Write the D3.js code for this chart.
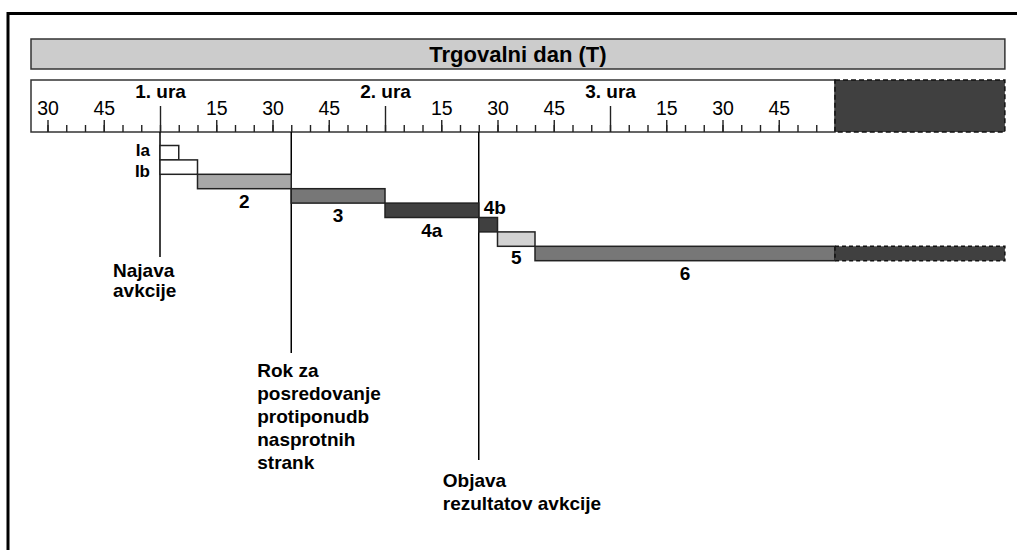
<!DOCTYPE html>
<html>
<head>
<meta charset="utf-8">
<script src="https://cdn.jsdelivr.net/npm/d3@7"></script>
<style>
  body { margin: 0; background: #fff; }
  svg { display: block; font-family: 'Liberation Sans', Arial, sans-serif; }
  .lbl { font-weight: bold; font-size: 19px; fill: #000; }
</style>
</head>
<body>
<svg id="chart" width="1017" height="550"></svg>
<script>
// time is in minutes from the start of the trading day
const title = 'Trgovalni dan (T)'
const axisStart = 25.6
const dayEnd = 240
const nextDayEnd = 285.3

const hourTicks = [60, 120, 180]
const hourLabels = ['1. ura', '2. ura', '3. ura']
const quarterTicks = [30, 45, 75, 90, 105, 135, 150, 165, 195, 210, 225]
const quarterLabels = ['30', '45', '15', '30', '45', '15', '30', '45', '15', '30', '45']
const minuteTicks = d3.range(30, 240, 5)

const phases = ['Ia', 'Ib', '2', '3', '4a', '4b', '5', '6']
const phaseStart = [60, 60, 70, 95, 120, 145, 150, 160]
const phaseEnd = [65, 70, 95, 120, 145, 150, 160, 240]

const events = [60, 95, 145]
const eventLabels = [
  ['Najava', 'avkcije'],
  ['Rok za', 'posredovanje', 'protiponudb', 'nasprotnih', 'strank'],
  ['Objava', 'rezultatov avkcije'],
]

// styles
const phaseColors = ['#ffffff', '#ffffff', '#a8a8a8', '#777777', '#404040', '#404040', '#d2d2d2', '#777777']
const labelPos = ['left', 'left', 'below', 'below', 'below', 'right', 'below', 'below']
const labelDy = [-4, 3, 19, 19, 19, -4, 18, 19]
const eventLayout = [
  { lineEnd: 257, dx: -47, first: 277, lh: 19.5 },
  { lineEnd: 353, dx: -34, first: 377, lh: 23 },
  { lineEnd: 460, dx: -36, first: 487, lh: 23.3 },
]

const svg = d3.select('#chart')
const x = d3.scaleLinear([axisStart, dayEnd], [31, 835])
const y = d3.scaleBand(phases, [145.5, 260.7])
const axisTop = 80
const axisBottom = 132

// frame
svg.append('path')
  .attr('d', 'M8,560V13.5H1030')
  .attr('fill', 'none')
  .attr('stroke', '#000')
  .attr('stroke-width', 3)

// title bar
svg.append('rect')
  .attr('x', x(axisStart)).attr('y', 39)
  .attr('width', x(nextDayEnd) - x(axisStart)).attr('height', 30)
  .attr('fill', '#cccccc').attr('stroke', '#333').attr('stroke-width', 1.5)

svg.append('text')
  .attr('class', 'lbl')
  .attr('x', (x(axisStart) + x(nextDayEnd)) / 2)
  .attr('y', 62)
  .attr('text-anchor', 'middle')
  .style('font-size', '22px')
  .text(title)

// time axis box
svg.append('rect')
  .attr('x', x(axisStart)).attr('y', axisTop)
  .attr('width', x(dayEnd) - x(axisStart)).attr('height', axisBottom - axisTop)
  .attr('fill', '#fff').attr('stroke', '#333').attr('stroke-width', 1.5)

svg.append('rect')
  .attr('x', x(dayEnd)).attr('y', axisTop)
  .attr('width', x(nextDayEnd) - x(dayEnd)).attr('height', axisBottom - axisTop)
  .attr('fill', '#404040').attr('stroke', '#111').attr('stroke-width', 1.5)
  .attr('stroke-dasharray', '5,3')

function drawAxis (values, labels, size, pad, cls) {
  const g = svg.append('g')
    .attr('class', cls)
    .attr('transform', `translate(0,${ axisBottom })`)
    .call(d3.axisTop(x)
      .tickValues(values)
      .tickSize(size)
      .tickPadding(pad)
      .tickFormat((d, i) => labels ? labels[i] : ''))
  g.select('.domain').remove()
  g.selectAll('.tick line').attr('stroke', '#222').attr('stroke-width', 1.4)
  g.selectAll('.tick text').attr('fill', '#000').attr('font-family', null).attr('font-size', null)
  return g
}

drawAxis(minuteTicks, null, 7, 0, 'minor')
drawAxis(quarterTicks, quarterLabels, 12, 5, 'quarter')
  .selectAll('.tick text').style('font-size', '19.5px')
drawAxis(hourTicks, hourLabels, 26, 8, 'hour')
  .selectAll('.tick text').attr('class', 'lbl')

// event lines
events.forEach((t, i) => {
  const l = eventLayout[i]
  svg.append('line')
    .attr('x1', x(t)).attr('x2', x(t))
    .attr('y1', axisBottom).attr('y2', l.lineEnd)
    .attr('stroke', '#000').attr('stroke-width', 1.5)
  svg.append('text')
    .attr('class', 'lbl')
    .selectAll('tspan')
    .data(eventLabels[i])
    .join('tspan')
    .attr('x', x(t) + l.dx)
    .attr('y', (d, j) => l.first + j * l.lh)
    .text((d) => d)
})

// phase bars
const bars = phases.map((p, i) => ({ p, s: phaseStart[i], e: phaseEnd[i], fill: phaseColors[i], pos: labelPos[i], dy: labelDy[i] }))

svg.selectAll('rect.bar')
  .data(bars)
  .join('rect')
  .classed('bar', true)
  .attr('x', (d) => x(d.s))
  .attr('y', (d) => y(d.p))
  .attr('width', (d) => x(d.e) - x(d.s))
  .attr('height', y.bandwidth())
  .attr('fill', (d) => d.fill)
  .attr('stroke', '#222')
  .attr('stroke-width', 1.5)

// continuation of the last phase into the next day
const last = bars[bars.length - 1]
svg.append('rect')
  .attr('x', x(dayEnd)).attr('y', y(last.p))
  .attr('width', x(nextDayEnd) - x(dayEnd)).attr('height', y.bandwidth())
  .attr('fill', '#404040').attr('stroke', '#111').attr('stroke-width', 1.5)
  .attr('stroke-dasharray', '4,3')

svg.selectAll('text.phase')
  .data(bars)
  .join('text')
  .attr('class', 'lbl phase')
  .attr('text-anchor', (d) => d.pos === 'left' ? 'end' : d.pos === 'right' ? 'start' : 'middle')
  .attr('x', (d) => d.pos === 'left' ? x(d.s) - 10 : d.pos === 'right' ? x(d.s) + 5 : (x(d.s) + x(d.e)) / 2)
  .attr('y', (d) => (d.pos === 'right' ? y(d.p) : y(d.p) + y.bandwidth()) + d.dy)
  .style('font-size', (d) => d.pos === 'left' ? '17px' : null)
  .text((d) => d.p)
</script>
</body>
</html>
